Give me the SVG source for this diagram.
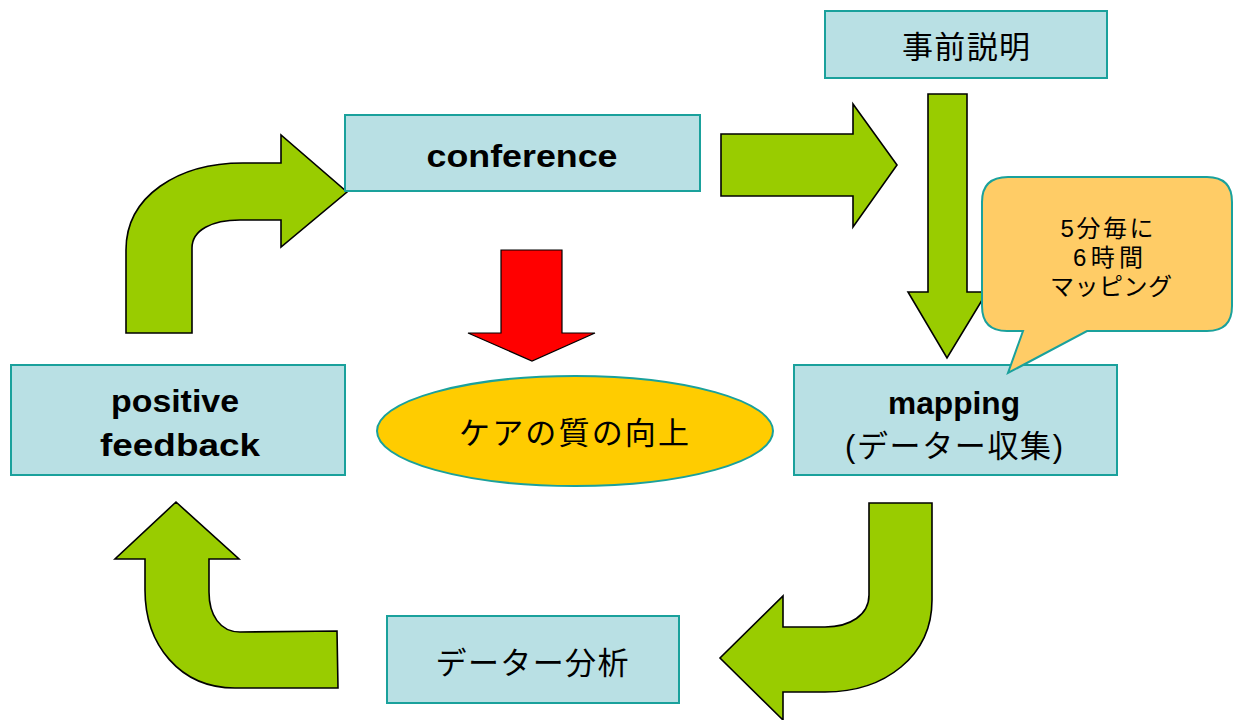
<svg xmlns="http://www.w3.org/2000/svg" width="1234" height="720" viewBox="0 0 1234 720">
  <style>
    .box { fill: #b9e0e4; stroke: #1aa19c; stroke-width: 2; }
    .arrow { fill: #99cc00; stroke: #000000; stroke-width: 1.6; stroke-linejoin: miter; }
    .red { fill: #ff0000; stroke: #000000; stroke-width: 1.2; }
    .lat { font-family: "Comic Sans MS", "Liberation Sans", sans-serif; font-weight: bold; font-size: 31px; fill: #000; text-anchor: middle; }
    .jp { font-family: "Liberation Sans", "Noto Sans CJK JP", sans-serif; font-size: 31px; fill: #000; text-anchor: middle; }
    .small { font-family: "Liberation Sans", "Noto Sans CJK JP", sans-serif; font-size: 24px; fill: #000; text-anchor: middle; }
  </style>
  <rect width="1234" height="720" fill="#ffffff"/>

  <g id="connectors">
    <!-- top-left curved arrow: positive feedback -> conference -->
    <path class="arrow" d="M126,333 L126,250 C126,196 178,163 243,163 L281,163 L281,135 L347,192 L281,247 L281,220 L240,220 C212,220 192,230 192,248 L192,333 Z"/>
    <!-- conference -> right -->
    <path class="arrow" d="M721,134 L853,134 L853,104 L897,165 L853,227 L853,196 L721,196 Z"/>
    <!-- 事前説明 -> mapping -->
    <path class="arrow" d="M928,94 L967,94 L967,292 L987,292 L947,358 L908,292 L928,292 Z"/>
    <!-- mapping -> データー分析 -->
    <path class="arrow" d="M932,503 L932,600 C932,656 885,692 825,692 L783,692 L783,720 L720,658 L783,596 L783,627 L825,627 C850,627 869,615 869,595 L869,503 Z"/>
    <!-- データー分析 -> positive feedback -->
    <path class="arrow" d="M176,502 L239,559 L209,559 L209,592 C209,615 220,632 240,632 L337,631 L338,688 L235,688 C180,688 145,645 145,590 L145,559 L115,559 Z"/>
    <!-- red arrow -> ケアの質の向上 -->
    <path class="red" d="M501,250 L562,250 L562,333 L595,333 L532,361 L468,333 L501,333 Z"/>
  </g>

  <g id="node-jizen">
    <rect class="box" x="825" y="11" width="282" height="67"/>
    <text class="jp" x="966" y="58" textLength="128" lengthAdjust="spacing">事前説明</text>
  </g>

  <g id="node-conference">
    <rect class="box" x="345" y="115" width="355" height="76"/>
    <text class="lat" x="522" y="167" textLength="191" lengthAdjust="spacingAndGlyphs">conference</text>
  </g>

  <g id="node-positive-feedback">
    <rect class="box" x="11" y="365" width="334" height="110"/>
    <text class="lat" x="175" y="412" textLength="128" lengthAdjust="spacingAndGlyphs">positive</text>
    <text class="lat" x="180" y="456" textLength="160" lengthAdjust="spacingAndGlyphs">feedback</text>
  </g>

  <g id="node-mapping">
    <rect class="box" x="794" y="365" width="323" height="110"/>
    <text class="lat" x="954" y="414" textLength="132" lengthAdjust="spacingAndGlyphs">mapping</text>
    <text class="jp" x="954" y="457" textLength="218" lengthAdjust="spacing">(データー収集)</text>
  </g>

  <g id="node-data-analysis">
    <rect class="box" x="387" y="616" width="292" height="87"/>
    <text class="jp" x="532" y="674" textLength="193" lengthAdjust="spacing">データー分析</text>
  </g>

  <g id="node-quality">
    <ellipse cx="575" cy="431" rx="198" ry="55" fill="#ffcc00" stroke="#1aa19c" stroke-width="2"/>
    <text class="jp" x="574" y="444" textLength="230" lengthAdjust="spacing">ケアの質の向上</text>
  </g>

  <g id="node-callout">
    <path d="M1008,177 L1207,177 Q1232,177 1232,202 L1232,306 Q1232,331 1207,331 L1087,331 L1008,373 L1023,331 L1007,331 Q982,331 982,306 L982,202 Q982,177 1008,177 Z" fill="#ffcc66" stroke="#1aa19c" stroke-width="2"/>
    <text class="small" x="1107" y="237" textLength="93" lengthAdjust="spacing">5分毎に</text>
    <text class="small" x="1108" y="266" textLength="70" lengthAdjust="spacing">6時間</text>
    <text class="small" x="1111" y="295" textLength="122" lengthAdjust="spacing">マッピング</text>
  </g>
</svg>
